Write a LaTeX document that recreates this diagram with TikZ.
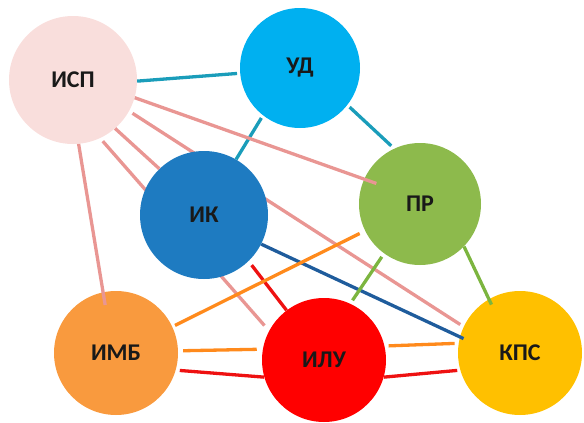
\documentclass[tikz,border=0pt]{standalone}
\usepackage{fontspec}
\setmainfont{Carlito}
\pgfdeclarelayer{bg}
\pgfsetlayers{bg,main}

\definecolor{ispfill}{HTML}{F9DEDC}
\definecolor{udfill}{HTML}{00B0F0}
\definecolor{ikfill}{HTML}{1E7BC1}
\definecolor{prfill}{HTML}{8DBA4C}
\definecolor{imbfill}{HTML}{F99A3E}
\definecolor{ilufill}{HTML}{FF0000}
\definecolor{kpsfill}{HTML}{FFC000}
\definecolor{pinkline}{HTML}{E99693}
\definecolor{tealline}{HTML}{1A9DBA}
\definecolor{darkline}{HTML}{1F5C9C}
\definecolor{redline}{HTML}{EE1111}
\definecolor{orangeline}{HTML}{FF8A1C}
\definecolor{greenline}{HTML}{7CB53F}

\begin{document}
\begin{tikzpicture}[x=1pt,y=-1pt,
  bubble/.style={circle,inner sep=0pt,text=black!90,font=\fontsize{24}{24}\selectfont\bfseries},
  link/.style={line width=3.3pt}]
\useasboundingbox (0,0) rectangle (584,423);

\node[bubble,minimum size=128pt,fill=ispfill](isp) at (73,80){ИСП};
\node[bubble,minimum size=120pt,fill=udfill](ud) at (300,68){УД};
\node[bubble,minimum size=128pt,fill=ikfill](ik) at (204,215){ИК};
\node[bubble,minimum size=122pt,fill=prfill](pr) at (420,204){ПР};
\node[bubble,minimum size=124pt,fill=imbfill](imb) at (116,353){ИМБ};
\node[bubble,minimum size=124pt,fill=ilufill](ilu) at (324,360){ИЛУ};
\node[bubble,minimum size=124pt,fill=kpsfill](kps) at (520,353){КПС};

% lines that run behind ИК
\begin{pgfonlayer}{bg}
\draw[link,pinkline,shorten <=4pt,shorten >=4pt] (isp.-29) -- (kps.155);
\draw[link,pinkline,shorten <=4pt,shorten >=7pt] (isp.-65) -- (ilu.152);
\end{pgfonlayer}

\draw[link,tealline,shorten >=3pt] (isp.-1) -- (ud.185);
\draw[link,tealline,shorten <=3pt] (ud.232) -- (ik.60);
\draw[link,tealline,shorten <=3pt,shorten >=4pt] (ud.-38) -- (pr.115);

\draw[link,pinkline,shorten >=-13pt] (isp.-16) -- (pr.156);
\draw[link,pinkline] (isp.-49) -- (ik.134);
\draw[link,pinkline,shorten >=-13pt] (isp.-85) -- (imb.102);

\draw[link,darkline,shorten >=-4pt] (ik.-27) -- (kps.165);
\draw[link,redline,shorten <=5pt] (ik.-46) -- (ilu.127);

\draw[link,orangeline,shorten <=3pt,shorten >=6pt] (imb.25) -- (pr.206);
\draw[link,greenline,shorten <=4pt,shorten >=4pt] (ilu.65) -- (pr.234);
\draw[link,greenline,shorten >=-6pt] (pr.-44) -- (kps.120);

\draw[link,orangeline,shorten <=5pt,shorten >=6pt] (imb.2) -- (ilu.170);
\draw[link,redline,shorten <=4pt] (imb.-16) -- (ilu.196);
\draw[link,orangeline,shorten <=4pt,shorten >=4pt] (ilu.13) -- (kps.171);
\draw[link,redline,shorten >=3pt] (ilu.-16) -- (kps.196);

\end{tikzpicture}
\end{document}
